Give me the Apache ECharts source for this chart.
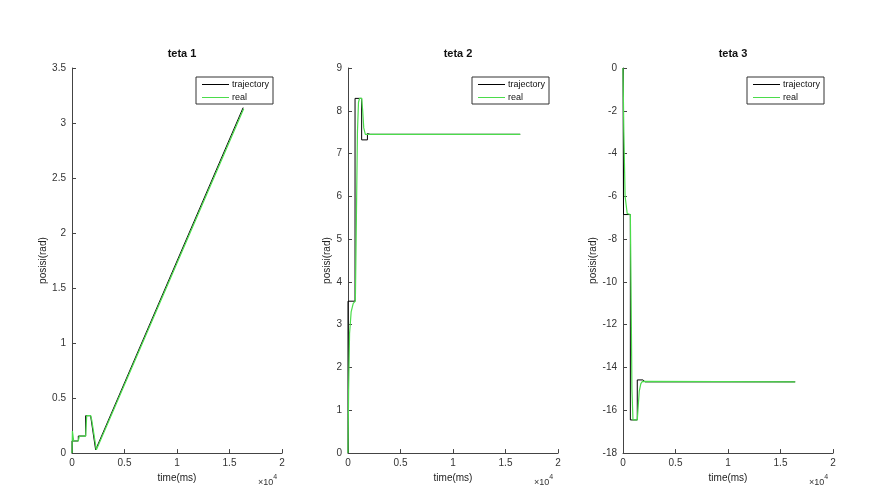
<!DOCTYPE html>
<html>
<head>
<meta charset="utf-8">
<script src="https://cdn.jsdelivr.net/npm/echarts@6/dist/echarts.min.js"></script>
<style>html,body{margin:0;padding:0;background:#fff;}#c{width:875px;height:488px;}</style>
</head>
<body>
<div id="c"></div>
<script>
// ---- data (time in ms, position in rad) ----
const titles = ['teta 1', 'teta 2', 'teta 3'];
const xTicksScale = 10000;

const t1Traj = [0, 0, 600, 600, 1300, 1300, 1770, 2250, 16300];
const y1Traj = [0, 0.11, 0.11, 0.155, 0.155, 0.34, 0.34, 0.03, 3.14];
const t1Real = [0, 40, 160, 600, 700, 1300, 1400, 1780, 1880, 2320, 16350];
const y1Real = [0, 0.2, 0.11, 0.11, 0.155, 0.155, 0.34, 0.34, 0.3, 0.03, 3.13];

const t2Traj = [0, 0, 670, 670, 1300, 1300, 1850, 1850, 2100, 16400];
const y2Traj = [0, 3.55, 3.55, 8.29, 8.29, 7.32, 7.32, 7.47, 7.45, 7.45];
const t2Real = [0, 60, 150, 300, 500, 700, 800, 900, 1000, 1100, 1300, 1400, 1500, 1650, 16400];
const y2Real = [0, 1.5, 2.8, 3.3, 3.5, 3.55, 5.5, 7.5, 8.2, 8.29, 8.29, 8.0, 7.6, 7.45, 7.45];

const t3Traj = [0, 50, 700, 700, 1360, 1360, 1900, 2100, 16400];
const y3Traj = [0, -6.85, -6.85, -16.45, -16.45, -14.58, -14.58, -14.67, -14.67];
const t3Real = [0, 80, 200, 400, 700, 760, 850, 950, 1360, 1450, 1550, 1700, 1850, 16400];
const y3Real = [0, -3, -6, -6.8, -6.85, -10, -15, -16.45, -16.45, -15.8, -15.1, -14.75, -14.65, -14.67];

const yMins = [0, 0, -18];
const yMaxs = [3.5, 9, 0];
const yIntervals = [0.5, 1, 2];

// ---- chart ----
const zip = (a, b) => a.map((v, i) => [v, b[i]]);
const FONT = 'Liberation Sans, Arial, sans-serif';
const gridLefts = [72, 348, 623];
const gridW = 210, gridTop = 68, gridH = 386;
const nameGaps = [20, 12, 18];
const trajData = [zip(t1Traj, y1Traj), zip(t2Traj, y2Traj), zip(t3Traj, y3Traj)];
const realData = [zip(t1Real, y1Real), zip(t2Real, y2Real), zip(t3Real, y3Real)];
const GREEN = '#4bdc4b';

const axisColor = '#444';
const grid = [], xAxis = [], yAxis = [], series = [], title = [], legend = [], graphic = [];
for (let i = 0; i < 3; i++) {
  grid.push({left: gridLefts[i], top: gridTop, width: gridW, height: gridH, containLabel: false});
  xAxis.push({
    type: 'value', gridIndex: i, min: 0, max: 20000, interval: 5000,
    name: 'time(ms)', nameLocation: 'middle', nameGap: 17,
    nameTextStyle: {fontFamily: FONT, fontSize: 10, color: '#222'},
    axisLine: {show: true, onZero: false, lineStyle: {color: axisColor, width: 1}},
    axisTick: {show: true, inside: true, length: 4, lineStyle: {color: axisColor}},
    axisLabel: {fontFamily: FONT, fontSize: 10, color: '#333', margin: 5,
      formatter: v => String(v / xTicksScale)},
    splitLine: {show: false}
  });
  yAxis.push({
    type: 'value', gridIndex: i, min: yMins[i], max: yMaxs[i], interval: yIntervals[i],
    name: 'posisi(rad)', nameLocation: 'middle', nameGap: nameGaps[i],
    nameTextStyle: {fontFamily: FONT, fontSize: 10, color: '#222'},
    axisLine: {show: true, onZero: false, lineStyle: {color: axisColor, width: 1}},
    axisTick: {show: true, inside: true, length: 4, lineStyle: {color: axisColor}},
    axisLabel: {fontFamily: FONT, fontSize: 10, color: '#333', margin: 6},
    splitLine: {show: false}
  });
  series.push({
    name: 'trajectory', type: 'line', xAxisIndex: i, yAxisIndex: i,
    data: trajData[i], symbol: 'none', lineStyle: {color: '#000', width: 1},
    itemStyle: {color: '#000'}, animation: false, z: 2
  });
  series.push({
    name: 'real', type: 'line', xAxisIndex: i, yAxisIndex: i,
    data: realData[i], symbol: 'none', lineStyle: {color: GREEN, width: 1.2},
    itemStyle: {color: GREEN}, animation: false, z: 3
  });
  title.push({
    text: titles[i], left: gridLefts[i] + gridW / 2, top: 43, textAlign: 'center',
    textStyle: {fontFamily: FONT, fontSize: 11, fontWeight: 'bold', color: '#111'}
  });
  legend.push({
    data: [
      {name: 'trajectory', icon: 'rect', itemStyle: {color: '#000'}},
      {name: 'real', icon: 'rect', itemStyle: {color: GREEN}}
    ],
    orient: 'vertical',
    left: gridLefts[i] + 124, top: 77,
    backgroundColor: '#fff', borderColor: '#333', borderWidth: 1, borderRadius: 0,
    padding: [3, 4, 2, 6], itemWidth: 27, itemHeight: 1, itemGap: 4,
    textStyle: {fontFamily: FONT, fontSize: 9, color: '#111', padding: [0, 0, 0, -2], lineHeight: 8},
    selectedMode: false
  });
  graphic.push({
    type: 'text', left: gridLefts[i] + gridW - 24, top: 474,
    style: {
      text: '{a|×10}{b|4}',
      rich: {
        a: {fontFamily: FONT, fontSize: 9, fill: '#333', verticalAlign: 'bottom'},
        b: {fontFamily: FONT, fontSize: 7, fill: '#333', verticalAlign: 'top', padding: [0, 0, 6, 0]}
      }
    }
  });
}

const chart = echarts.init(document.getElementById('c'), null, {renderer: 'canvas'});
chart.setOption({
  backgroundColor: '#fff',
  animation: false,
  title, legend, grid, xAxis, yAxis, series, graphic
});
</script>
</body>
</html>
